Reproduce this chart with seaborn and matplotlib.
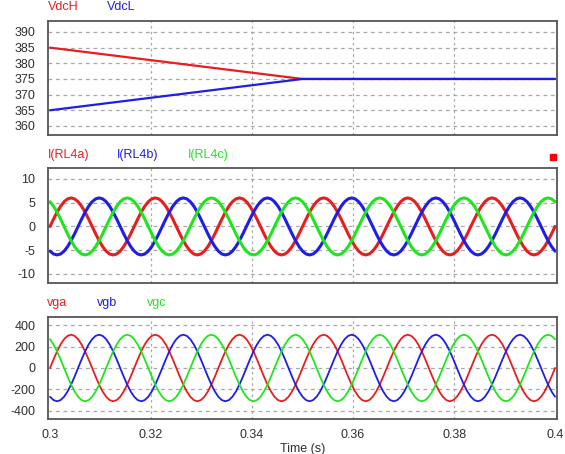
import matplotlib
matplotlib.use("Agg")
import matplotlib.pyplot as plt
from matplotlib.patches import Rectangle
import numpy as np
import seaborn as sns

# DC link voltages
dc_time = [0.30, 0.35, 0.40]
vdc_high = [385, 375, 375]
vdc_low = [365, 375, 375]

# sample times of the AC waveforms (every 15 electrical degrees at 60 Hz)
time_s = np.linspace(0.3, 0.4, 145)

# load currents I(RL4a), I(RL4b), I(RL4c)
i_a = [
    0, 1.55, 3.0, 4.24, 5.2, 5.8, 6.0, 5.8, 5.2, 4.24, 3.0, 1.55, 0, -1.55, -3.0, -4.24, -5.2, -5.8, -6.0, -5.8, -5.2, -4.24, -3.0, -1.55,
    0, 1.55, 3.0, 4.24, 5.2, 5.8, 6.0, 5.8, 5.2, 4.24, 3.0, 1.55, 0, -1.55, -3.0, -4.24, -5.2, -5.8, -6.0, -5.8, -5.2, -4.24, -3.0, -1.55,
    0, 1.55, 3.0, 4.24, 5.2, 5.8, 6.0, 5.8, 5.2, 4.24, 3.0, 1.55, 0, -1.55, -3.0, -4.24, -5.2, -5.8, -6.0, -5.8, -5.2, -4.24, -3.0, -1.55,
    0, 1.55, 3.0, 4.24, 5.2, 5.8, 6.0, 5.8, 5.2, 4.24, 3.0, 1.55, 0, -1.55, -3.0, -4.24, -5.2, -5.8, -6.0, -5.8, -5.2, -4.24, -3.0, -1.55,
    0, 1.55, 3.0, 4.24, 5.2, 5.8, 6.0, 5.8, 5.2, 4.24, 3.0, 1.55, 0, -1.55, -3.0, -4.24, -5.2, -5.8, -6.0, -5.8, -5.2, -4.24, -3.0, -1.55,
    0, 1.55, 3.0, 4.24, 5.2, 5.8, 6.0, 5.8, 5.2, 4.24, 3.0, 1.55, 0, -1.55, -3.0, -4.24, -5.2, -5.8, -6.0, -5.8, -5.2, -4.24, -3.0, -1.55,
    0,
]
i_b = [
    -5.2, -5.8, -6.0, -5.8, -5.2, -4.24, -3.0, -1.55, 0, 1.55, 3.0, 4.24, 5.2, 5.8, 6.0, 5.8, 5.2, 4.24, 3.0, 1.55, 0, -1.55, -3.0, -4.24,
    -5.2, -5.8, -6.0, -5.8, -5.2, -4.24, -3.0, -1.55, 0, 1.55, 3.0, 4.24, 5.2, 5.8, 6.0, 5.8, 5.2, 4.24, 3.0, 1.55, 0, -1.55, -3.0, -4.24,
    -5.2, -5.8, -6.0, -5.8, -5.2, -4.24, -3.0, -1.55, 0, 1.55, 3.0, 4.24, 5.2, 5.8, 6.0, 5.8, 5.2, 4.24, 3.0, 1.55, 0, -1.55, -3.0, -4.24,
    -5.2, -5.8, -6.0, -5.8, -5.2, -4.24, -3.0, -1.55, 0, 1.55, 3.0, 4.24, 5.2, 5.8, 6.0, 5.8, 5.2, 4.24, 3.0, 1.55, 0, -1.55, -3.0, -4.24,
    -5.2, -5.8, -6.0, -5.8, -5.2, -4.24, -3.0, -1.55, 0, 1.55, 3.0, 4.24, 5.2, 5.8, 6.0, 5.8, 5.2, 4.24, 3.0, 1.55, 0, -1.55, -3.0, -4.24,
    -5.2, -5.8, -6.0, -5.8, -5.2, -4.24, -3.0, -1.55, 0, 1.55, 3.0, 4.24, 5.2, 5.8, 6.0, 5.8, 5.2, 4.24, 3.0, 1.55, 0, -1.55, -3.0, -4.24,
    -5.2,
]
i_c = [
    5.2, 4.24, 3.0, 1.55, 0, -1.55, -3.0, -4.24, -5.2, -5.8, -6.0, -5.8, -5.2, -4.24, -3.0, -1.55, 0, 1.55, 3.0, 4.24, 5.2, 5.8, 6.0, 5.8,
    5.2, 4.24, 3.0, 1.55, 0, -1.55, -3.0, -4.24, -5.2, -5.8, -6.0, -5.8, -5.2, -4.24, -3.0, -1.55, 0, 1.55, 3.0, 4.24, 5.2, 5.8, 6.0, 5.8,
    5.2, 4.24, 3.0, 1.55, 0, -1.55, -3.0, -4.24, -5.2, -5.8, -6.0, -5.8, -5.2, -4.24, -3.0, -1.55, 0, 1.55, 3.0, 4.24, 5.2, 5.8, 6.0, 5.8,
    5.2, 4.24, 3.0, 1.55, 0, -1.55, -3.0, -4.24, -5.2, -5.8, -6.0, -5.8, -5.2, -4.24, -3.0, -1.55, 0, 1.55, 3.0, 4.24, 5.2, 5.8, 6.0, 5.8,
    5.2, 4.24, 3.0, 1.55, 0, -1.55, -3.0, -4.24, -5.2, -5.8, -6.0, -5.8, -5.2, -4.24, -3.0, -1.55, 0, 1.55, 3.0, 4.24, 5.2, 5.8, 6.0, 5.8,
    5.2, 4.24, 3.0, 1.55, 0, -1.55, -3.0, -4.24, -5.2, -5.8, -6.0, -5.8, -5.2, -4.24, -3.0, -1.55, 0, 1.55, 3.0, 4.24, 5.2, 5.8, 6.0, 5.8,
    5.2,
]

# grid voltages vga, vgb, vgc
v_a = [
    0, 80, 155, 219, 268, 299, 310, 299, 268, 219, 155, 80, 0, -80, -155, -219, -268, -299, -310, -299, -268, -219, -155, -80,
    0, 80, 155, 219, 268, 299, 310, 299, 268, 219, 155, 80, 0, -80, -155, -219, -268, -299, -310, -299, -268, -219, -155, -80,
    0, 80, 155, 219, 268, 299, 310, 299, 268, 219, 155, 80, 0, -80, -155, -219, -268, -299, -310, -299, -268, -219, -155, -80,
    0, 80, 155, 219, 268, 299, 310, 299, 268, 219, 155, 80, 0, -80, -155, -219, -268, -299, -310, -299, -268, -219, -155, -80,
    0, 80, 155, 219, 268, 299, 310, 299, 268, 219, 155, 80, 0, -80, -155, -219, -268, -299, -310, -299, -268, -219, -155, -80,
    0, 80, 155, 219, 268, 299, 310, 299, 268, 219, 155, 80, 0, -80, -155, -219, -268, -299, -310, -299, -268, -219, -155, -80,
    0,
]
v_b = [
    -268, -299, -310, -299, -268, -219, -155, -80, 0, 80, 155, 219, 268, 299, 310, 299, 268, 219, 155, 80, 0, -80, -155, -219,
    -268, -299, -310, -299, -268, -219, -155, -80, 0, 80, 155, 219, 268, 299, 310, 299, 268, 219, 155, 80, 0, -80, -155, -219,
    -268, -299, -310, -299, -268, -219, -155, -80, 0, 80, 155, 219, 268, 299, 310, 299, 268, 219, 155, 80, 0, -80, -155, -219,
    -268, -299, -310, -299, -268, -219, -155, -80, 0, 80, 155, 219, 268, 299, 310, 299, 268, 219, 155, 80, 0, -80, -155, -219,
    -268, -299, -310, -299, -268, -219, -155, -80, 0, 80, 155, 219, 268, 299, 310, 299, 268, 219, 155, 80, 0, -80, -155, -219,
    -268, -299, -310, -299, -268, -219, -155, -80, 0, 80, 155, 219, 268, 299, 310, 299, 268, 219, 155, 80, 0, -80, -155, -219,
    -268,
]
v_c = [
    268, 219, 155, 80, 0, -80, -155, -219, -268, -299, -310, -299, -268, -219, -155, -80, 0, 80, 155, 219, 268, 299, 310, 299,
    268, 219, 155, 80, 0, -80, -155, -219, -268, -299, -310, -299, -268, -219, -155, -80, 0, 80, 155, 219, 268, 299, 310, 299,
    268, 219, 155, 80, 0, -80, -155, -219, -268, -299, -310, -299, -268, -219, -155, -80, 0, 80, 155, 219, 268, 299, 310, 299,
    268, 219, 155, 80, 0, -80, -155, -219, -268, -299, -310, -299, -268, -219, -155, -80, 0, 80, 155, 219, 268, 299, 310, 299,
    268, 219, 155, 80, 0, -80, -155, -219, -268, -299, -310, -299, -268, -219, -155, -80, 0, 80, 155, 219, 268, 299, 310, 299,
    268, 219, 155, 80, 0, -80, -155, -219, -268, -299, -310, -299, -268, -219, -155, -80, 0, 80, 155, 219, 268, 299, 310, 299,
    268,
]

x_ticks = [0.3, 0.32, 0.34, 0.36, 0.38, 0.4]
x_tick_labels = ["0.3", "0.32", "0.34", "0.36", "0.38", "0.4"]
dc_ticks = [360, 365, 370, 375, 380, 385, 390]
cur_ticks = [-10, -5, 0, 5, 10]
volt_ticks = [-400, -200, 0, 200, 400]

RED, BLUE, GREEN = "#e61e1e", "#1e1ee6", "#1ee61e"

sns.set_style("white")
plt.rcParams["font.family"] = ["Liberation Sans", "DejaVu Sans"]
plt.rcParams["axes.unicode_minus"] = False

fig = plt.figure(figsize=(5.65, 4.54), dpi=100)
ax1 = fig.add_axes([0.085, 0.7026, 0.901, 0.2511])
ax2 = fig.add_axes([0.085, 0.3767, 0.901, 0.2533])
ax3 = fig.add_axes([0.085, 0.0771, 0.901, 0.2247])

# top panel: DC voltages
sns.lineplot(x=dc_time, y=vdc_high, ax=ax1, color=RED, lw=1.6, estimator=None)
sns.lineplot(x=dc_time, y=vdc_low, ax=ax1, color=BLUE, lw=1.6, estimator=None)
ax1.set_ylim(357.1, 393.5)
ax1.set_yticks(dc_ticks)

# middle panel: currents
for y, c in [(i_a, RED), (i_b, BLUE), (i_c, GREEN)]:
    sns.lineplot(x=time_s, y=y, ax=ax2, color=c, lw=2.2, estimator=None)
ax2.set_ylim(-11.9, 12.3)
ax2.set_yticks(cur_ticks)

# bottom panel: grid voltages
for y, c in [(v_a, RED), (v_b, BLUE), (v_c, GREEN)]:
    sns.lineplot(x=time_s, y=y, ax=ax3, color=c, lw=1.3, estimator=None)
ax3.set_ylim(-475, 475)
ax3.set_yticks(volt_ticks)

for ax in (ax1, ax2, ax3):
    ax.set_xlim(0.2996, 0.4004)
    ax.set_xticks(x_ticks)
    ax.set_xlabel("")
    ax.set_ylabel("")
    ax.tick_params(length=0, labelsize=9, labelcolor="#303030", pad=9)
    ax.grid(False)
    for yv in ax.get_yticks():
        ax.axhline(yv, color="#a8a8a8", lw=0.9, ls=(0, (3, 3)), zorder=0)
    for xv in x_ticks[1:-1]:
        ax.axvline(xv, color="#a8a8a8", lw=0.9, ls=(0, (2, 2.5)), zorder=0)
    for sp in ax.spines.values():
        sp.set_color("#555555")
        sp.set_linewidth(1.3)

ax1.set_xticklabels([])
ax2.set_xticklabels([])
ax3.set_xticklabels(x_tick_labels)
ax3.tick_params(axis="x", pad=7)
ax3.set_xlabel("Time (s)", fontsize=9, color="#303030", labelpad=2)

# series names above each panel
W, H = 565, 454
for label, px, py, c in [
    ("VdcH", 48, 7, RED), ("VdcL", 107, 7, BLUE),
    ("I(RL4a)", 48, 155, RED), ("I(RL4b)", 117, 155, BLUE), ("I(RL4c)", 188, 155, GREEN),
    ("vga", 47, 303, RED), ("vgb", 97, 303, BLUE), ("vgc", 147, 303, GREEN),
]:
    fig.text(px / W, 1 - py / H, label, color=c, fontsize=9, ha="left", va="center")

fig.add_artist(Rectangle((550 / W, 1 - 160 / H), 6 / W, 6 / H,
                         transform=fig.transFigure, color="#ff0000"))

fig.savefig("out.png", dpi=100)
